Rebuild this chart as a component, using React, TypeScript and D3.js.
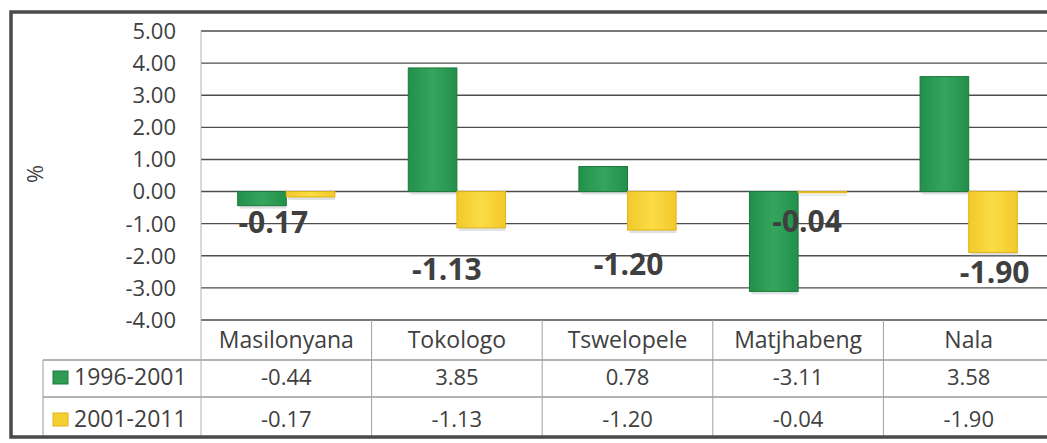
import React from "react";
import * as d3 from "d3";

// chart data
const municipalities = ["Masilonyana", "Tokologo", "Tswelopele", "Matjhabeng", "Nala"];
const seriesNames = ["1996-2001", "2001-2011"];
const growth19962001 = [-0.44, 3.85, 0.78, -3.11, 3.58];
const growth20012011 = [-0.17, -1.13, -1.2, -0.04, -1.9];
const yTicks = [5, 4, 3, 2, 1, 0, -1, -2, -3, -4];

// manual label nudges (px) as placed in the original workbook
const labelDx = [-13, -10, 1, 9, 26];
const labelDy = [36, 52, 45, 39, 30];

const W = 1047;
const H = 443;
const plot = { left: 201, right: 1054, top: 31, bottom: 320 };
const table = { left: 43, headBottom: 360, row1Bottom: 397, bottom: 437 };
const font = "'Open Sans', 'Liberation Sans', sans-serif";
const textColor = "#3f3f3f";

const colors = {
  green: { fill: "url(#gGreen)", stroke: "#1c7a3c", key: "#2e9a52" },
  yellow: { fill: "url(#gYellow)", stroke: "#e2b41c", key: "#f4cf2e" },
};

// Excel prints a plain hyphen, not the unicode minus d3.format gives
const fmt = (v: number) => d3.format(".2f")(v).replace("\u2212", "-");

export default function App() {
  const x = d3.scaleBand<string>().domain(municipalities).range([plot.left, plot.right]).padding(0);
  const bw = x.bandwidth();
  const groupW = bw * 0.57;
  const x1 = d3.scaleBand<string>().domain(seriesNames).range([0, groupW]).padding(0);
  const y = d3.scaleLinear().domain([-4, 5]).range([plot.bottom, plot.top]);

  const series = [
    { name: seriesNames[0], values: growth19962001, c: colors.green },
    { name: seriesNames[1], values: growth20012011, c: colors.yellow },
  ];

  const cx = (m: string) => (x(m) as number) + bw / 2;

  return (
    <svg
      width={W}
      height={H}
      style={{ position: "absolute", left: 0, top: 0, background: "#fff" }}
      fontFamily={font}
    >
      <defs>
        <linearGradient id="gGreen" x1="0" x2="1" y1="0" y2="0">
          <stop offset="0" stopColor="#22904a" />
          <stop offset="0.5" stopColor="#35a55d" />
          <stop offset="1" stopColor="#22904a" />
        </linearGradient>
        <linearGradient id="gYellow" x1="0" x2="1" y1="0" y2="0">
          <stop offset="0" stopColor="#f2c92a" />
          <stop offset="0.5" stopColor="#fbdc45" />
          <stop offset="1" stopColor="#f2c92a" />
        </linearGradient>
      </defs>

      {/* gridlines */}
      {yTicks.map((t) => (
        <line
          key={"g" + t}
          x1={plot.left}
          x2={plot.right}
          y1={y(t)}
          y2={y(t)}
          stroke="#4d4d4d"
          strokeWidth={1.4}
        />
      ))}

      {/* y tick labels */}
      {yTicks.map((t) => (
        <text
          key={"t" + t}
          x={176}
          y={y(t)}
          dy="0.36em"
          textAnchor="end"
          fontSize={22}
          fill={textColor}
        >
          {fmt(t)}
        </text>
      ))}

      <text
        transform="translate(43,174) rotate(-90)"
        textAnchor="middle"
        fontSize={22}
        fill={textColor}
      >
        %
      </text>

      {/* bars */}
      {series.map((s) =>
        municipalities.map((m, i) => {
          const v = s.values[i];
          const bx = (x(m) as number) + (bw - groupW) / 2 + (x1(s.name) as number);
          const y0 = y(0);
          const yv = y(v);
          const top = Math.min(y0, yv);
          const h = Math.abs(yv - y0);
          return (
            <g key={s.name + m}>
              <rect
                x={bx + 2}
                y={top + 3}
                width={x1.bandwidth() - 2}
                height={h}
                fill="#b8bec6"
                opacity={0.45}
              />
              <rect
                x={bx}
                y={top}
                width={x1.bandwidth()}
                height={Math.max(h, 1)}
                fill={s.c.fill}
                stroke={s.c.stroke}
                strokeWidth={1}
              />
            </g>
          );
        })
      )}

      {/* data labels (second series) */}
      {municipalities.map((m, i) => (
        <text
          key={"l" + m}
          x={cx(m) + labelDx[i]}
          y={y(growth20012011[i]) + labelDy[i]}
          textAnchor="middle"
          fontSize={30}
          fontWeight="bold"
          fill={textColor}
        >
          {fmt(growth20012011[i])}
        </text>
      ))}

      {/* data table */}
      <line x1={table.left} x2={plot.right} y1={table.headBottom} y2={table.headBottom} stroke="#6a6a6a" strokeWidth={1.2} />
      <line x1={table.left} x2={plot.right} y1={table.row1Bottom} y2={table.row1Bottom} stroke="#6a6a6a" strokeWidth={1.2} />
      <line x1={table.left} x2={table.left} y1={table.headBottom} y2={table.bottom} stroke="#9a9a9a" strokeWidth={1} />
      <line x1={plot.left} x2={plot.left} y1={plot.top} y2={table.bottom} stroke="#a9b4c2" strokeWidth={1} />
      {municipalities.map((m) => (
        <line
          key={"s" + m}
          x1={(x(m) as number) + bw}
          x2={(x(m) as number) + bw}
          y1={plot.bottom}
          y2={table.bottom}
          stroke="#a0a0a0"
          strokeWidth={1}
        />
      ))}
      {municipalities.map((m) => (
        <text key={"c" + m} x={cx(m)} y={348} textAnchor="middle" fontSize={23} fill={textColor}>
          {m}
        </text>
      ))}
      {series.map((s, si) => {
        const base = si === 0 ? 385 : 427;
        return (
          <g key={"row" + s.name}>
            <rect x={53} y={base - 14} width={15} height={13} fill={s.c.key} stroke={s.c.stroke} strokeWidth={1} />
            <text x={74} y={base} fontSize={23} fill={textColor}>
              {s.name}
            </text>
            {municipalities.map((m, i) => (
              <text key={m} x={cx(m)} y={base} textAnchor="middle" fontSize={22} fill={textColor}>
                {fmt(s.values[i])}
              </text>
            ))}
          </g>
        );
      })}

      {/* outer chart border */}
      <rect x={11} y={12} width={W + 20} height={425} fill="none" stroke="#4a4a4a" strokeWidth={3.5} />
    </svg>
  );
}
